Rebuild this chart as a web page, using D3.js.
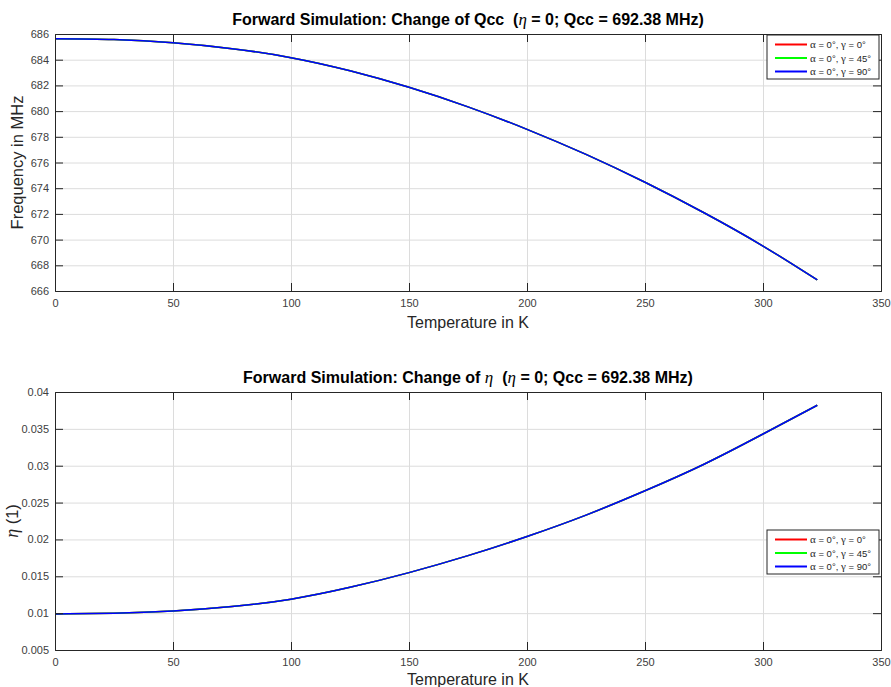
<!DOCTYPE html>
<html>
<head>
<meta charset="utf-8">
<script src="https://cdn.jsdelivr.net/npm/d3@7"></script>
<style>
body { margin: 0; background: #fff; }
svg { display: block; font-family: "Liberation Sans", Arial, sans-serif; }
.tick text { fill: #404040; font-size: 11px; }
</style>
</head>
<body>
<div id="chart"></div>
<script>
// values
var temperature = [0, 25, 50, 75, 100, 125, 150, 175, 200, 225, 250, 275, 300, 323];
var qccValues = [685.63, 685.57, 685.32, 684.86, 684.16, 683.14, 681.85, 680.33, 678.58, 676.63, 674.46, 672.09, 669.5, 666.86];
var etaValues = [0.0099, 0.0100, 0.0103, 0.0109, 0.0119, 0.0135, 0.0155, 0.0178, 0.0204, 0.0233, 0.0266, 0.0302, 0.0343, 0.0382];

var seriesGamma = ["0", "45", "90"];
var seriesColors = ["#ff0000", "#00ff00", "#0000ff"];

var xTicks = [0, 50, 100, 150, 200, 250, 300, 350];
var qccTicks = [666, 668, 670, 672, 674, 676, 678, 680, 682, 684, 686];
var etaTicks = [0.005, 0.01, 0.015, 0.02, 0.025, 0.03, 0.035, 0.04];

var width = 891, height = 687;
var svg = d3.select("#chart").append("svg")
    .attr("width", width)
    .attr("height", height);

function drawPanel(opts){
    var left = 55, right = 881;
    var x = d3.scaleLinear().domain([0, 350]).range([left, right]);
    var y = d3.scaleLinear().domain(opts.yDomain).range([opts.bottom, opts.top]);
    var g = svg.append("g");

    // grid
    g.append("g")
        .attr("transform", `translate(0,${opts.bottom})`)
        .call(d3.axisBottom(x).tickValues(xTicks).tickSize(-(opts.bottom - opts.top)).tickFormat(""))
        .call(s => s.select(".domain").remove())
        .selectAll("line").attr("stroke", "#dcdcdc");
    g.append("g")
        .attr("transform", `translate(${left},0)`)
        .call(d3.axisLeft(y).tickValues(opts.yTicks).tickSize(-(right - left)).tickFormat(""))
        .call(s => s.select(".domain").remove())
        .selectAll("line").attr("stroke", "#dcdcdc");

    // lines, blue drawn last
    var line = d3.line()
        .x((d, i) => x(temperature[i]))
        .y(d => y(d))
        .curve(d3.curveNatural);
    seriesColors.forEach(function(c){
        g.append("path")
            .datum(opts.values)
            .attr("fill", "none")
            .attr("stroke", c)
            .attr("stroke-width", 1.5)
            .attr("d", line);
    });

    // axes with inward ticks on all four sides
    var axisColor = "#262626";
    var bx = g.append("g").attr("transform", `translate(0,${opts.bottom})`)
        .call(d3.axisBottom(x).tickValues(xTicks).tickSize(-8).tickPadding(8).tickFormat(d3.format("d")));
    var tx = g.append("g").attr("transform", `translate(0,${opts.top})`)
        .call(d3.axisTop(x).tickValues(xTicks).tickSize(-8).tickFormat(""));
    var ly = g.append("g").attr("transform", `translate(${left},0)`)
        .call(d3.axisLeft(y).tickValues(opts.yTicks).tickSize(-8).tickPadding(6).tickFormat(opts.fmt));
    var ry = g.append("g").attr("transform", `translate(${right},0)`)
        .call(d3.axisRight(y).tickValues(opts.yTicks).tickSize(-8).tickFormat(""));
    [bx, tx, ly, ry].forEach(function(a){
        a.select(".domain").attr("stroke", axisColor);
        a.selectAll(".tick line").attr("stroke", axisColor);
    });
    // no tick marks on the corners
    var yEnds = [opts.yTicks[0], opts.yTicks[opts.yTicks.length - 1]];
    ly.selectAll(".tick line").filter(d => yEnds.includes(d)).remove();
    ry.selectAll(".tick line").filter(d => yEnds.includes(d)).remove();
    bx.selectAll(".tick line").filter(d => d === 0 || d === 350).remove();
    tx.selectAll(".tick line").filter(d => d === 0 || d === 350).remove();

    // title
    var t = g.append("text")
        .attr("x", (left + right) / 2)
        .attr("y", opts.top - 9)
        .attr("text-anchor", "middle")
        .attr("font-size", "16px")
        .attr("font-weight", "bold")
        .attr("fill", "#000")
        .style("white-space", "pre");
    opts.title.forEach(function(p){
        var s = t.append("tspan").text(p.text);
        if (p.greek) s.attr("font-family", "'Liberation Serif', serif").attr("font-style", "italic").attr("font-weight", "normal").attr("font-size", "17px");
    });

    // x label
    g.append("text")
        .attr("x", (left + right) / 2)
        .attr("y", opts.xLabelY)
        .attr("text-anchor", "middle")
        .attr("font-size", "16px")
        .attr("fill", "#262626")
        .text("Temperature in K");

    // y label
    var yl = g.append("text")
        .attr("transform", `translate(${opts.yLabelX},${(opts.top + opts.bottom) / 2}) rotate(-90)`)
        .attr("text-anchor", "middle")
        .attr("font-size", "16.5px")
        .attr("fill", "#262626");
    opts.yLabel.forEach(function(p){
        var s = yl.append("tspan").text(p.text);
        if (p.greek) s.attr("font-family", "'Liberation Serif', serif").attr("font-style", "italic").attr("font-size", "18px");
    });

    // legend
    var lg = g.append("g").attr("transform", `translate(767,${opts.legendTop})`);
    lg.append("rect")
        .attr("width", 112).attr("height", 44)
        .attr("fill", "#fff")
        .attr("stroke", "#262626")
        .attr("stroke-width", 1);
    seriesGamma.forEach(function(gm, i){
        var ry0 = 9.5 + i * 13.5;
        lg.append("line")
            .attr("x1", 8).attr("x2", 40)
            .attr("y1", ry0).attr("y2", ry0)
            .attr("stroke", seriesColors[i])
            .attr("stroke-width", 2);
        var tt = lg.append("text")
            .attr("x", 43).attr("y", ry0 + 3.5)
            .attr("font-size", "9.5px")
            .attr("fill", "#262626");
        tt.append("tspan").attr("font-family", "'Liberation Serif', serif").attr("font-size", "11px").text("α");
        tt.append("tspan").text(" = 0°, ");
        tt.append("tspan").attr("font-family", "'Liberation Serif', serif").attr("font-size", "11px").text("γ");
        tt.append("tspan").text(" = " + gm + "°");
    });
}

drawPanel({
    top: 34, bottom: 291,
    yDomain: [666, 686],
    yTicks: qccTicks,
    fmt: d3.format("d"),
    values: qccValues,
    title: [{text: "Forward Simulation: Change of Qcc  ("}, {text: "η", greek: true}, {text: " = 0; Qcc = 692.38 MHz)"}],
    yLabel: [{text: "Frequency in MHz"}],
    yLabelX: 23,
    xLabelY: 328,
    legendTop: 35
});

drawPanel({
    top: 392, bottom: 650,
    yDomain: [0.005, 0.04],
    yTicks: etaTicks,
    fmt: d => String(+d.toFixed(3)),
    values: etaValues,
    title: [{text: "Forward Simulation: Change of "}, {text: "η", greek: true}, {text: "  ("}, {text: "η", greek: true}, {text: " = 0; Qcc = 692.38 MHz)"}],
    yLabel: [{text: "η", greek: true}, {text: " (1)"}],
    yLabelX: 18,
    xLabelY: 685,
    legendTop: 530
});
</script>
</body>
</html>
